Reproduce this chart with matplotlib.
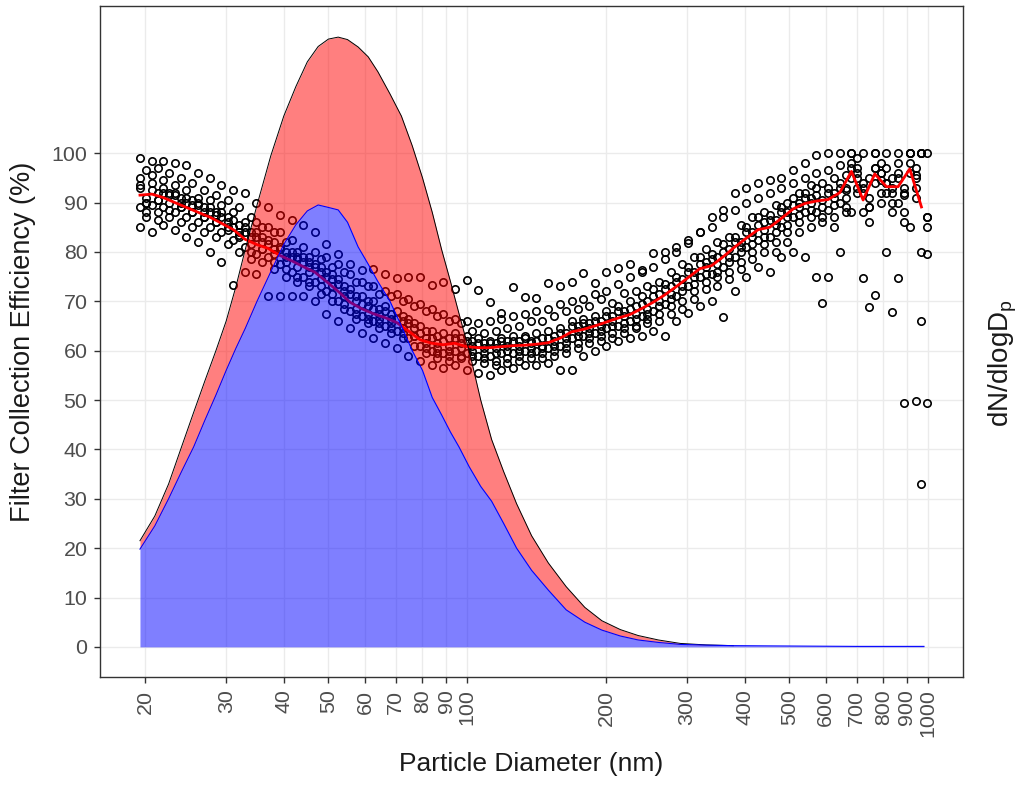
import numpy as np
import matplotlib.pyplot as plt

plt.rcParams['font.family'] = ['Liberation Sans', 'DejaVu Sans']

# particle diameter bins (nm) for the filter efficiency runs
dia = [19.5, 20.7, 21.9, 23.2, 24.6, 26.1, 27.7, 29.3, 31.1, 32.9,
       34.9, 37.0, 39.2, 41.6, 44.1, 46.7, 49.5, 52.5, 55.7, 59.0,
       62.5, 66.3, 70.3, 74.5, 79.0, 83.7, 88.7, 94.0, 99.7, 105.7,
       112.0, 118.7, 125.9, 133.4, 141.4, 149.9, 158.9, 168.5, 178.6, 189.3,
       200.6, 212.7, 225.4, 239.0, 253.3, 268.5, 284.6, 301.7, 319.8, 339.0,
       359.3, 380.9, 403.7, 428.0, 453.6, 480.9, 509.7, 540.3, 572.7, 607.1,
       643.5, 682.1, 723.1, 766.5, 812.4, 861.2, 912.9, 967.7]
# second instrument bin set (shifted channels)
dia_b = [20.1, 21.3, 22.6, 23.9, 25.3, 26.9, 28.5, 30.2, 32.0, 33.9,
         35.9, 38.1, 40.4, 42.8, 45.4, 48.1, 51.0, 54.1, 57.4, 60.8,
         64.4, 68.3, 72.4, 76.7, 81.4, 86.2, 91.4, 96.8, 102.7, 108.9,
         115.4, 122.3, 129.7, 137.4, 145.6, 154.4, 163.7, 173.6, 184.0, 195.0,
         206.6, 219.1, 232.2, 246.2, 260.9, 276.6, 293.1, 310.8, 329.4, 349.2,
         370.1, 392.3, 415.8, 440.8, 467.2, 495.3, 525.0, 556.5, 589.9, 625.3,
         662.8, 702.6, 744.8, 789.5, 836.8, 887.0, 940.3, 996.7]

# mean collection efficiency (%)
eff_mean = [91.5, 91.7, 91.0, 90.0, 89.0, 88.0, 87.0, 85.8, 84.5, 82.6,
            81.5, 80.7, 79.3, 78.2, 77.0, 75.9, 74.0, 72.0, 69.8, 68.5,
            67.5, 66.7, 65.7, 64.0, 62.2, 61.5, 61.2, 61.5, 60.8, 60.6,
            60.6, 60.8, 61.0, 61.1, 61.3, 61.6, 62.5, 63.8, 64.3, 65.0,
            65.8, 66.6, 67.3, 68.5, 69.8, 71.3, 73.0, 74.8, 76.6, 77.2,
            79.0, 81.0, 82.8, 84.5, 85.0, 86.8, 88.7, 89.8, 90.3, 90.6,
            92.0, 96.3, 90.5, 95.8, 93.2, 93.2, 96.8, 89.1]

# individual runs (%)
run1 = [99.0, 98.5, 98.5, 98.0, 97.5, 96.0, 95.0, 93.5, 92.5, 92.0,
        90.0, 89.0, 87.5, 86.5, 85.5, 84.0, 81.5, 79.5, 77.5, 76.3,
        76.5, 75.5, 74.7, 75.0, 75.0, 73.2, 74.0, 72.5, 74.3, 72.3,
        69.8, 67.6, 72.9, 70.9, 70.6, 73.7, 73.0, 73.9, 75.7, 73.7,
        75.9, 76.7, 77.5, 76.3, 79.8, 80.0, 81.0, 81.8, 84.0, 87.0,
        88.5, 92.0, 93.0, 94.0, 94.5, 95.0, 96.5, 98.0, 99.6, 100,
        100, 100, 100, 100, 100, 100, 100, 100]
run2 = [96.5, 97.0, 96.0, 95.0, 94.0, 92.5, 91.5, 90.5, 89.0, 87.0,
        85.0, 84.0, 82.0, 80.0, 79.0, 78.5, 77.0, 76.0, 74.0, 73.0,
        71.5, 71.0, 70.0, 69.0, 68.0, 67.0, 66.0, 65.5, 64.0, 63.5,
        64.0, 64.5, 65.0, 66.0, 66.0, 67.0, 68.0, 68.5, 69.0, 70.5,
        69.6, 71.7, 72.0, 73.0, 74.0, 76.0, 77.5, 79.0, 80.5, 82.0,
        83.0, 85.5, 87.0, 88.0, 89.5, 90.0, 92.0, 93.5, 94.0, 95.0,
        95.5, 97.0, 95.0, 96.0, 95.0, 92.0, 95.0, 87.0]
run3 = [93.5, 94.0, 93.0, 92.0, 91.0, 90.0, 89.0, 88.0, 86.5, 85.0,
        84.0, 82.5, 81.0, 80.0, 79.0, 77.5, 76.0, 74.5, 72.5, 71.0,
        70.0, 69.0, 68.0, 66.5, 65.0, 64.0, 63.5, 63.5, 63.0, 62.5,
        62.0, 62.5, 63.0, 63.0, 63.5, 64.0, 64.5, 66.0, 66.5, 67.0,
        68.0, 69.0, 70.0, 71.0, 72.5, 73.5, 75.0, 77.0, 79.0, 79.5,
        81.5, 83.0, 85.0, 87.0, 87.5, 89.0, 91.0, 92.0, 93.0, 93.0,
        94.0, 98.0, 93.0, 97.0, 94.0, 96.0, 100, 100]
run4 = [91.0, 92.0, 91.5, 90.0, 89.5, 88.0, 87.5, 86.0, 84.0, 83.0,
        82.0, 80.5, 79.0, 78.5, 77.0, 76.0, 74.5, 72.0, 70.0, 69.0,
        67.5, 66.5, 66.0, 64.5, 62.5, 61.5, 61.0, 61.5, 61.0, 60.5,
        60.5, 61.0, 61.0, 61.5, 61.0, 62.0, 62.5, 64.0, 64.5, 65.0,
        66.0, 67.0, 67.5, 68.5, 70.0, 71.5, 73.0, 75.0, 77.0, 77.5,
        79.0, 81.0, 83.0, 84.5, 85.5, 87.0, 89.0, 90.0, 90.5, 91.0,
        92.5, 96.0, 91.0, 96.0, 93.0, 93.0, 97.0, 87.0]
run5 = [89.0, 89.5, 89.0, 88.0, 87.0, 86.0, 85.0, 84.0, 82.5, 81.0,
        79.5, 79.0, 77.5, 76.0, 75.0, 74.0, 72.0, 70.0, 68.0, 67.0,
        66.0, 65.0, 64.0, 62.5, 61.0, 60.0, 59.5, 60.0, 59.5, 59.0,
        59.0, 59.5, 59.5, 60.0, 60.0, 60.5, 61.0, 62.5, 63.0, 63.5,
        64.5, 65.0, 66.0, 67.0, 68.0, 69.5, 71.0, 73.0, 75.0, 75.5,
        77.0, 79.0, 81.0, 82.5, 83.0, 85.0, 87.0, 88.0, 88.0, 88.5,
        90.0, 95.0, 88.0, 94.0, 92.0, 90.0, 96.0, 80.0]
run6 = [87.0, 86.5, 87.0, 86.0, 85.0, 84.0, 83.0, 81.5, 80.0, 78.5,
        78.0, 76.5, 75.0, 74.0, 73.0, 71.5, 70.0, 68.5, 66.5, 65.5,
        64.5, 63.5, 62.5, 61.0, 59.5, 58.5, 58.0, 58.5, 58.0, 57.5,
        57.0, 57.5, 58.0, 58.5, 58.5, 59.0, 59.5, 60.5, 61.5, 62.0,
        62.5, 63.5, 64.5, 65.5, 66.0, 67.5, 68.5, 70.5, 72.5, 73.0,
        74.5, 76.5, 78.5, 80.0, 80.0, 82.0, 84.0, 85.0, 86.0, 85.0,
        88.0, 92.0, 86.0, 90.0, 90.0, 88.0, 93.0, 79.5]
run7 = [85.0, 84.0, 85.5, 84.5, 83.0, 82.0, 80.0, 78.0, 73.3, 76.0,
        75.5, 71.0, 71.0, 71.0, 71.0, 70.0, 67.5, 66.0, 64.5, 63.5,
        62.5, 61.5, 60.5, 59.0, 58.0, 57.0, 56.5, 57.0, 56.0, 55.5,
        55.0, 56.0, 56.5, 57.0, 57.0, 57.5, 56.0, 56.0, 59.0, 60.0,
        61.0, 62.0, 62.5, 63.0, 64.0, 63.0, 66.0, 67.6, 69.0, 70.0,
        66.8, 72.0, 75.0, 77.0, 76.0, 79.0, 80.0, 79.0, 75.0, 75.0,
        80.0, 88.0, 74.7, 71.3, 80.0, 74.7, 85.0, 66.0]
run8 = [90.0, 90.5, 92.0, 91.0, 90.5, 89.0, 88.0, 87.0, 85.5, 84.0,
        83.0, 82.0, 80.0, 79.0, 78.0, 77.0, 75.5, 73.0, 71.0, 70.0,
        68.5, 67.5, 67.0, 65.5, 64.0, 63.0, 62.5, 62.5, 62.0, 61.5,
        61.5, 62.0, 62.0, 62.0, 62.5, 63.0, 63.5, 65.0, 65.5, 66.0,
        67.0, 68.0, 69.0, 70.0, 71.5, 73.0, 74.5, 76.0, 78.0, 79.0,
        80.5, 82.0, 84.0, 86.0, 86.5, 88.0, 90.0, 91.0, 69.6, 92.0,
        93.0, 99.0, 68.8, 98.0, 67.8, 49.4, 49.8, 49.4]
run9 = [95.0, 95.5, 94.5, 93.5, 92.5, 91.0, 90.5, 89.5, 88.0, 86.0,
        86.0, 85.0, 84.0, 82.5, 81.0, 80.0, 79.0, 77.5, 75.5, 74.0,
        73.0, 72.0, 71.5, 70.5, 69.5, 68.5, 67.5, 66.5, 66.0, 65.5,
        66.0, 66.5, 67.0, 67.5, 68.0, 68.5, 69.5, 70.0, 70.5, 71.5,
        72.0, 73.5, 75.0, 76.0, 77.0, 78.5, 80.0, 82.5, 84.0, 85.0,
        87.0, 88.5, 90.0, 91.0, 92.0, 93.0, 94.0, 95.0, 96.0, 96.5,
        97.5, 100, 94.0, 100, 97.0, 98.0, 100, 33.0]
run10 = [88.0, 88.0, 88.5, 89.0, 88.0, 87.0, 86.0, 85.0, 83.5, 80.0,
         80.5, 78.0, 76.5, 75.0, 74.0, 73.0, 71.5, 69.5, 67.5, 66.5,
         65.5, 64.5, 63.5, 63.0, 60.5, 59.5, 59.0, 59.0, 59.0, 58.5,
         58.0, 58.5, 59.0, 59.5, 59.5, 60.0, 60.5, 61.5, 62.5, 63.0,
         63.5, 64.5, 65.0, 66.5, 67.5, 69.0, 70.0, 72.0, 74.0, 75.0,
         76.0, 78.0, 80.0, 81.5, 82.0, 84.0, 86.0, 87.0, 87.0, 87.0,
         89.0, 93.0, 89.0, 92.0, 88.0, 86.0, 91.0, 100]
run11 = [93.0, 92.5, 92.0, 91.5, 90.0, 89.5, 88.0, 87.0, 85.0, 84.0,
         83.0, 81.5, 80.5, 79.0, 78.0, 77.0, 75.0, 73.5, 71.5, 69.5,
         68.5, 68.0, 66.5, 65.5, 63.5, 62.5, 62.0, 62.5, 62.0, 61.5,
         61.5, 62.0, 62.0, 62.5, 62.0, 62.5, 63.5, 65.0, 65.5, 66.0,
         67.0, 68.0, 68.5, 69.5, 71.0, 72.5, 74.0, 76.0, 77.5, 78.5,
         80.0, 82.0, 84.0, 85.5, 86.5, 88.0, 89.5, 91.0, 91.5, 92.0,
         93.0, 97.0, 92.0, 97.0, 94.0, 95.0, 98.0, 100]
run12 = [90.0, 90.5, 90.0, 89.0, 88.0, 87.0, 86.0, 84.5, 83.0, 81.5,
         80.5, 79.5, 78.0, 77.0, 76.0, 74.5, 73.0, 71.0, 68.5, 67.5,
         66.5, 65.5, 64.5, 63.0, 61.5, 60.5, 60.0, 60.5, 60.0, 59.5,
         59.5, 60.0, 60.0, 60.5, 60.5, 61.0, 61.5, 63.0, 63.5, 64.0,
         65.0, 65.5, 66.5, 67.5, 69.0, 70.5, 72.0, 73.5, 75.5, 76.0,
         78.0, 80.0, 81.5, 83.0, 84.0, 85.5, 87.5, 88.5, 89.0, 89.5,
         91.0, 95.0, 89.0, 94.5, 92.0, 91.5, 95.5, 85.0]
runs_a = [run1, run3, run5, run7, run9, run11]
runs_b = [run2, run4, run6, run8, run10, run12]

# size distributions dN/dlogDp (scaled to the efficiency axis)
dist_d = [19.5, 21, 22.5, 24, 25.5, 27, 28.5, 30, 31.5, 33,
          35, 37.5, 40, 42.5, 45, 47.5, 50, 52.5, 55, 58,
          61, 64, 68, 72, 76, 80, 84, 88, 92, 96,
          101, 107, 113, 120, 128, 138, 150, 164, 180, 196,
          215, 235, 260, 290, 330, 378, 450, 550, 700, 850, 980]
dn_red = [21.5, 26.5, 33, 40.5, 47.5, 54, 60, 66, 73, 80.5,
          89.5, 99.5, 107.5, 113.5, 118.5, 121.6, 123.1, 123.5, 123, 121.5,
          119.5, 116.5, 112, 107.5, 101.5, 95, 88, 80.5, 74, 67.5,
          60, 50, 42, 35.5, 29, 22.5, 17, 12.2, 8, 5.3,
          3.5, 2.3, 1.4, 0.7, 0.4, 0.25, np.nan, np.nan, np.nan, np.nan, np.nan]
dn_blue = [19.8, 24.5, 30, 35.5, 40.5, 46, 51, 56, 60.5, 64.5,
           70, 76, 81.5, 85.5, 88.3, 89.5, 89, 88.5, 86, 81,
           77.5, 74, 70, 65, 60, 56, 50.5, 47, 43.5, 40.5,
           36.5, 32.5, 29.5, 25, 20, 15.5, 11.5, 7.5, 5, 3.4,
           2.2, 1.4, 0.9, 0.5, 0.35, 0.25, 0.2, 0.15, 0.1, 0.1, 0.1]

xticks = [20, 30, 40, 50, 60, 70, 80, 90, 100, 200, 300, 400, 500, 600, 700, 800, 900, 1000]
yticks = [0, 10, 20, 30, 40, 50, 60, 70, 80, 90, 100]

fig = plt.figure(figsize=(10.26, 7.85), dpi=100)
ax = fig.add_axes([100/1026, 1-677/785, 863/1026, 671/785])

for r in runs_a:
    ax.plot(dia, r, 'o', mfc='none', mec='black', ms=5.3, mew=1.2, zorder=2)
for r in runs_b:
    ax.plot(dia_b, r, 'o', mfc='none', mec='black', ms=5.3, mew=1.2, zorder=2)
ax.plot(dia, eff_mean, color='red', lw=2.0, zorder=2.5)

red = np.array(dn_red, dtype=float)
blue = np.array(dn_blue, dtype=float)
ok = ~np.isnan(red)
ax.fill_between(dist_d, blue, red, where=ok, color='red', alpha=0.5, lw=0, zorder=3)
ax.fill_between(dist_d, 0, blue, color='blue', alpha=0.5, lw=0, zorder=3.5)
ax.plot(dist_d, red, color='black', lw=0.7, zorder=4)
ax.plot(dist_d, blue, color='blue', lw=0.8, zorder=4)

ax.set_xscale('log')
ax.set_xlim(15.97, 1191)
ax.set_ylim(-6.1, 129.8)
ax.set_xticks(xticks)
ax.set_xticklabels([str(t) for t in xticks], rotation=90, va='top', ha='center')
ax.minorticks_off()
ax.set_yticks(yticks)

ax.grid(True, color='#EBEBEB', lw=1)
ax.set_axisbelow(True)
for s in ax.spines.values():
    s.set_color('#333333')
    s.set_linewidth(1.0)
ax.tick_params(direction='out', length=4, width=1, color='#333333',
               labelcolor='#4D4D4D', labelsize=15.4, pad=5)

ax.set_xlabel('Particle Diameter (nm)', fontsize=19, color='#1A1A1A')
ax.xaxis.set_label_coords(0.5, -(752-677)/671)
ax.set_ylabel('Filter Collection Efficiency (%)', fontsize=19.5, color='#1A1A1A')
ax.yaxis.set_label_coords(-(100-36)/863, 0.5)
fig.text(1003/1026, 1-363/785, r'dN/dlogD$_\mathregular{p}$', rotation=90,
         ha='center', va='center', fontsize=20, color='#1A1A1A')

fig.savefig('out.png', dpi=100)
